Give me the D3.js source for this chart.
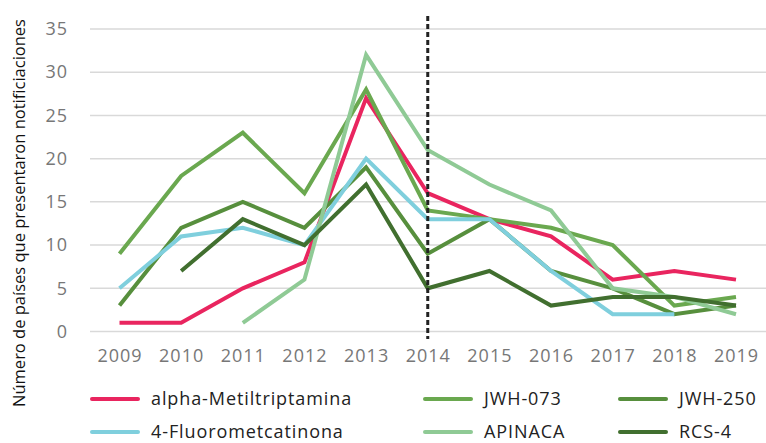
<!DOCTYPE html>
<html>
<head>
<meta charset="utf-8">
<script src="https://cdn.jsdelivr.net/npm/d3@7"></script>
<style>
  body { margin: 0; background: #fff; }
  svg { display: block; font-family: "Open Sans", sans-serif; }
</style>
</head>
<body>
<div id="container"></div>
<script>
// years on the x axis
const years = ['2009', '2010', '2011', '2012', '2013', '2014', '2015', '2016', '2017', '2018', '2019']
const yTicks = [0, 5, 10, 15, 20, 25, 30, 35]

// one array per substance, null = no notification that year
const alphaMT = [1, 1, 5, 8, 27, 16, 13, 11, 6, 7, 6]
const jwh073 = [9, 18, 23, 16, 28, 14, 13, 12, 10, 3, 4]
const jwh250 = [3, 12, 15, 12, 19, 9, 13, 7, 5, 2, 3]
const fmc4 = [5, 11, 12, 10, 20, 13, 13, 7, 2, 2, null]
const apinaca = [null, null, 1, 6, 32, 21, 17, 14, 5, 4, 2]
const rcs4 = [null, 7, 13, 10, 17, 5, 7, 3, 4, 4, 3]

const seriesNames = ['alpha-Metiltriptamina', 'JWH-073', 'JWH-250', '4-Fluorometcatinona', 'APINACA', 'RCS-4']
const seriesValues = [alphaMT, jwh073, jwh250, fmc4, apinaca, rcs4]
const seriesColors = ['#e9255f', '#6aa84f', '#578f3d', '#7fcfdd', '#8fca95', '#416f2f']

const markerYear = '2014'

const width = 766
const height = 443

const svg = d3.select('#container')
  .append('svg')
  .attr('width', width)
  .attr('height', height)

const x = d3.scalePoint()
  .domain(years)
  .range([119.5, 736])

const y = d3.scaleLinear()
  .domain([0, 35])
  .range([331.5, 29])

// gridlines
svg.append('g')
  .selectAll('line')
  .data(yTicks)
  .enter().append('line')
  .attr('x1', 90)
  .attr('x2', 766)
  .attr('y1', d => y(d))
  .attr('y2', d => y(d))
  .style('stroke', '#d9d9d9')
  .style('stroke-width', 1.5)

// y tick labels
const yAxis = svg.append('g')
  .attr('transform', 'translate(68,0)')
  .call(d3.axisLeft(y).tickValues(yTicks).tickSize(0).tickPadding(0))
yAxis.select('.domain').remove()
yAxis.selectAll('text')
  .style('font-family', '"Open Sans", sans-serif')
  .style('font-size', '18px')
  .style('letter-spacing', '1px')
  .style('fill', '#777')

// x tick labels
const xAxis = svg.append('g')
  .attr('transform', 'translate(0,349)')
  .call(d3.axisBottom(x).tickSize(0).tickPadding(0))
xAxis.select('.domain').remove()
xAxis.selectAll('text')
  .style('font-family', '"Open Sans", sans-serif')
  .style('font-size', '18px')
  .style('letter-spacing', '1px')
  .style('fill', '#777')

// y axis title
svg.append('text')
  .attr('transform', 'translate(25,213) rotate(-90)')
  .attr('text-anchor', 'middle')
  .style('font-size', '16.5px')
  .style('fill', '#111')
  .text('Número de países que presentaron notificiaciones')

// lines
const line = d3.line()
  .defined(d => d.v !== null)
  .x(d => x(d.year))
  .y(d => y(d.v))

svg.append('g')
  .selectAll('path')
  .data(seriesValues)
  .enter().append('path')
  .attr('d', vals => line(vals.map((v, i) => ({ year: years[i], v: v }))))
  .style('fill', 'none')
  .style('stroke', (d, i) => seriesColors[i])
  .style('stroke-width', 4)
  .style('stroke-linejoin', 'miter')

// dashed marker at 2014
svg.append('line')
  .attr('x1', x(markerYear))
  .attr('x2', x(markerYear))
  .attr('y1', 16)
  .attr('y2', 339)
  .style('stroke', '#222')
  .style('stroke-width', 3)
  .style('stroke-dasharray', '5,3')

// legend, 3 columns x 2 rows
const legendCols = [92, 425, 620]
const legendRows = [399, 432]
const legend = svg.append('g')
  .selectAll('g')
  .data(seriesNames)
  .enter().append('g')
  .attr('transform', (d, i) => `translate(${legendCols[i % 3]},${legendRows[Math.floor(i / 3)]})`)

legend.append('line')
  .attr('x1', 0)
  .attr('x2', 46)
  .style('stroke', (d, i) => seriesColors[i])
  .style('stroke-width', 4)
  .style('stroke-linecap', 'round')

legend.append('text')
  .attr('x', 59)
  .attr('dy', '0.35em')
  .style('font-size', '18px')
  .style('letter-spacing', '0.9px')
  .style('fill', '#222')
  .text(d => d)
</script>
</body>
</html>
